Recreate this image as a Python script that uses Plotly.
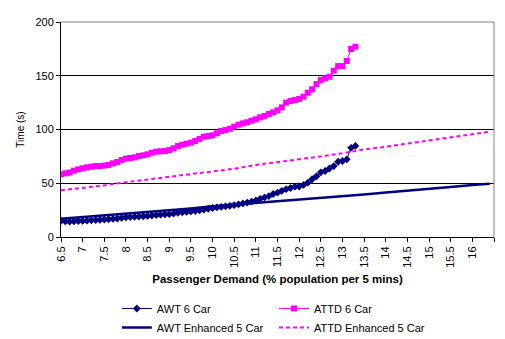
import plotly.graph_objects as go

# ---- data ----
x_6car = [6.5, 6.6, 6.7, 6.8, 6.9, 7.0, 7.1, 7.2, 7.3, 7.4, 7.5, 7.6, 7.7, 7.8, 7.9,
          8.0, 8.1, 8.2, 8.3, 8.4, 8.5, 8.6, 8.7, 8.8, 8.9, 9.0, 9.1, 9.2, 9.3, 9.4,
          9.5, 9.6, 9.7, 9.8, 9.9, 10.0, 10.1, 10.2, 10.3, 10.4, 10.5, 10.6, 10.7, 10.8,
          10.9, 11.0, 11.1, 11.2, 11.3, 11.4, 11.5, 11.6, 11.7, 11.8, 11.9, 12.0, 12.1,
          12.2, 12.3, 12.4, 12.5, 12.6, 12.7, 12.8, 12.9, 13.0, 13.1, 13.2, 13.3]

awt_6car = [15.0, 14.5, 14.3, 14.5, 14.8, 15.0, 15.2, 15.5, 15.8, 16.0, 16.3, 16.5, 16.8,
            17.2, 17.8, 18.2, 18.5, 18.8, 19.0, 19.3, 19.6, 20.0, 20.4, 20.8, 21.0, 21.2,
            21.8, 22.5, 23.0, 23.4, 23.8, 24.2, 24.8, 25.5, 26.3, 27.0, 27.5, 28.0, 28.5,
            29.0, 29.6, 30.4, 31.2, 32.0, 33.0, 34.0, 35.5, 36.8, 38.0, 40.0, 41.2, 43.0,
            44.5, 45.6, 46.8, 47.0, 48.4, 50.5, 53.7, 56.4, 60.2, 61.4, 63.7, 66.0, 70.0,
            70.7, 72.3, 83.0, 84.7]

attd_6car = [58.3, 59.2, 60.0, 61.7, 63.0, 63.9, 64.8, 65.4, 66.0, 66.0, 66.4, 67.0, 68.5,
             69.8, 71.6, 72.9, 73.5, 74.1, 75.3, 76.0, 76.9, 78.4, 79.4, 79.7, 80.0, 80.9,
             82.5, 84.7, 85.9, 86.8, 87.7, 89.3, 91.2, 93.3, 94.0, 94.6, 96.5, 98.6, 99.5,
             100.7, 102.6, 104.5, 105.7, 106.7, 108.2, 109.5, 111.3, 112.6, 114.4, 116.0,
             117.8, 120.6, 125.0, 126.5, 127.4, 128.4, 130.5, 134.2, 137.4, 142.3, 146.0,
             147.6, 149.1, 154.7, 159.0, 159.0, 163.7, 174.9, 177.0]

x_enh = [6.5, 7.0, 7.5, 8.0, 8.5, 9.0, 9.5, 10.0, 10.5, 11.0, 11.5, 12.0, 12.5, 13.0,
         13.5, 14.0, 14.5, 15.0, 15.5, 16.0, 16.4]
awt_enh = [17.0, 18.5, 20.0, 21.5, 23.0, 24.5, 26.5, 28.5, 30.0, 31.5, 33.0, 35.0, 36.5,
           38.0, 39.5, 41.5, 43.0, 44.5, 46.5, 48.3, 49.6]
attd_enh = [43.5, 45.5, 48.0, 51.0, 53.5, 55.5, 58.0, 60.5, 63.5, 67.0, 69.5, 72.5, 75.0,
            78.0, 81.5, 84.0, 87.0, 89.5, 92.3, 95.3, 98.0]

x_tickvals = [6.5, 7, 7.5, 8, 8.5, 9, 9.5, 10, 10.5, 11, 11.5, 12, 12.5, 13, 13.5, 14,
              14.5, 15, 15.5, 16, 16.5]
x_ticktext = ["6.5", "7", "7.5", "8", "8.5", "9", "9.5", "10", "10.5", "11", "11.5", "12",
              "12.5", "13", "13.5", "14", "14.5", "15", "15.5", "16", ""]
y_tickvals = [0, 50, 100, 150, 200]

NAVY = "#000080"
MAG = "#FF00FF"
FONT = "Liberation Sans, Arial, sans-serif"

fig = go.Figure()
fig.add_trace(go.Scatter(x=x_6car, y=awt_6car, name="AWT 6 Car", mode="lines+markers",
                         line=dict(color=NAVY, width=1), legend="legend",
                         marker=dict(symbol="diamond", size=6, color=NAVY)))
fig.add_trace(go.Scatter(x=x_6car, y=attd_6car, name="ATTD 6 Car", mode="lines+markers",
                         line=dict(color=MAG, width=1), legend="legend2",
                         marker=dict(symbol="square", size=6, color=MAG)))
fig.add_trace(go.Scatter(x=x_enh, y=awt_enh, name="AWT Enhanced 5 Car", mode="lines",
                         legend="legend",
                         line=dict(color=NAVY, width=2.5)))
fig.add_trace(go.Scatter(x=x_enh, y=attd_enh, name="ATTD Enhanced 5 Car", mode="lines",
                         legend="legend2",
                         line=dict(color=MAG, width=2, dash="4px,3px")))

leg_common = dict(orientation="v", yanchor="top", y=-0.265, xanchor="left",
                  font=dict(family=FONT, size=11, color="black"),
                  bgcolor="rgba(0,0,0,0)", tracegroupgap=0, itemwidth=30,
                  traceorder="normal")

fig.update_layout(
    width=505, height=339,
    margin=dict(l=61, r=11, t=22, b=102, autoexpand=False),
    paper_bgcolor="white", plot_bgcolor="white",
    font=dict(family=FONT, size=11, color="black"),
    showlegend=True,
    legend=dict(x=0.129, **leg_common),
    legend2=dict(x=0.492, **leg_common),
    xaxis=dict(range=[6.5, 16.5], tickmode="array", tickvals=x_tickvals,
               ticktext=x_ticktext, tickangle=-90, ticks="outside", ticklen=4,
               tickcolor="black", showline=True, linecolor="black", linewidth=1,
               showgrid=False, zeroline=False, tickfont=dict(size=11), automargin=False,
               title=dict(text="<b>Passenger Demand (% population per 5 mins)</b>",
                          font=dict(size=11.5), standoff=8)),
    yaxis=dict(range=[0, 200], tickmode="array", tickvals=y_tickvals, ticks="outside",
               ticklen=4, tickcolor="black", showline=True, linecolor="black",
               linewidth=1, showgrid=True, gridcolor="black", gridwidth=1,
               zeroline=False, tickfont=dict(size=11), automargin=False,
               title=dict(text="Time (s)", font=dict(size=10), standoff=8)),
)

# grey plot-area border at top and right (Excel style)
fig.add_shape(type="line", xref="paper", yref="paper", x0=0, x1=1, y0=1, y1=1,
              line=dict(color="#808080", width=1), layer="above")
fig.add_shape(type="line", xref="paper", yref="paper", x0=1, x1=1, y0=0, y1=1,
              line=dict(color="#808080", width=1), layer="above")

fig.write_html("out.html")
